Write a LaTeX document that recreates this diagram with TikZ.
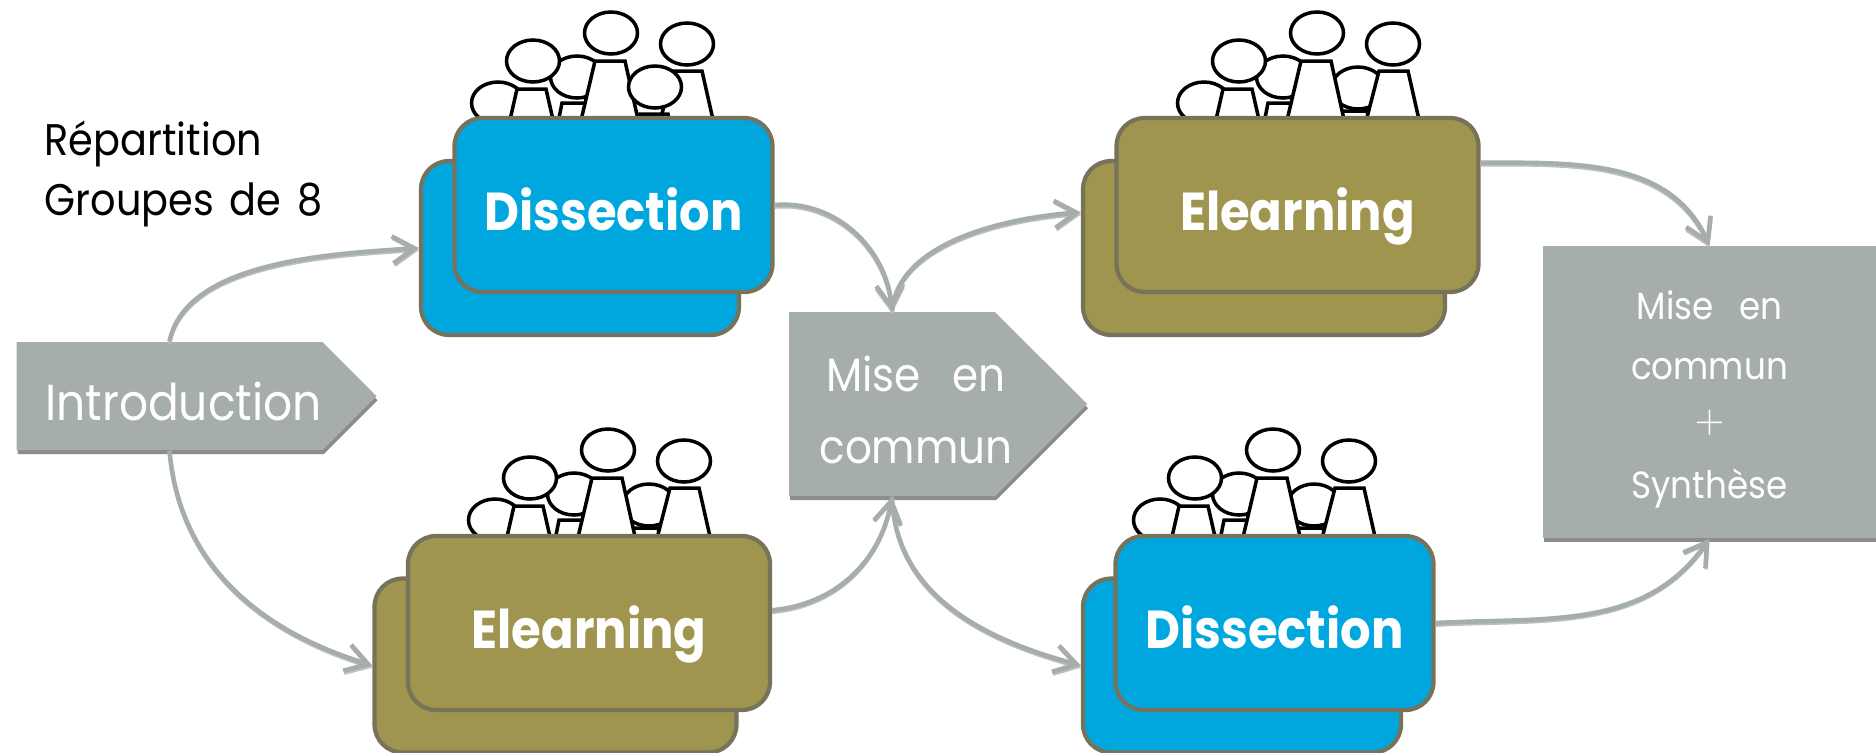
\documentclass[tikz,border=0pt]{standalone}
\usepackage{fontspec}
\setmainfont{Poppins}[FakeStretch=0.9, WordSpace=1.5]
\usetikzlibrary{arrows.meta,shapes.symbols,shadows}
\definecolor{bleu}{HTML}{00A7DF}
\definecolor{olive}{HTML}{9F954E}
\definecolor{gris}{HTML}{A5AEA8}
\definecolor{bord}{HTML}{77735A}
\newcommand{\decale}[1]{\makebox[0pt]{\hspace*{0.48cm}#1}}
\tikzset{
	corps/.style={draw=black, fill=white, line width=1pt},
	boite/.style={rectangle, rounded corners=0.28cm, draw=bord, line width=1.2pt, minimum height=1.74cm, text=white, text height=0.6cm, text depth=0.1cm, font=\fontsize{15.2}{17}\selectfont\bfseries},
	dissection/.style={boite, fill=bleu, minimum width=3.18cm},
	elearning/.style={boite, fill=olive, minimum width=3.62cm},
	ombre/.style={drop shadow={shadow xshift=0.3pt, shadow yshift=-1.2pt, opacity=0.45, fill=black}},
	etape/.style={signal, signal to=east, fill=gris, text=white, ombre, inner sep=0pt, align=center},
	fleche/.style={draw=gris, line width=1.3pt, -{Straight Barb[length=0.22cm, width=0.27cm]}, preaction={draw=black!25, line width=1pt, transform canvas={yshift=-0.6pt}, -{Straight Barb[length=0.22cm, width=0.27cm]}}},
	pics/fond/.style={code={
		\draw[corps] (-1.13, -0.70) ellipse (0.265 and 0.21);
		\draw[corps] (-0.34, -0.44) ellipse (0.265 and 0.21);
		\draw[corps] (-0.49, -0.70) -- (-0.25, -0.70) -- (-0.15, -1.0) -- (-0.55, -1.0) -- cycle;
		\draw[corps] (-0.94, -0.56) -- (-0.65, -0.56) -- (-0.55, -1.0) -- (-1.04, -1.0) -- cycle;
		\draw[corps] (-0.78, -0.28) ellipse (0.265 and 0.21);
	}},
	pics/milieu/.style={code={
		\draw[corps] (-0.16, -0.28) -- (0.14, -0.28) -- (0.30, -1.0) -- (-0.33, -1.0) -- cycle;
		\draw[corps] (0, 0) ellipse (0.265 and 0.21);
	}},
	pics/devant/.style={code={
		\draw[corps] (0.62, -0.38) -- (0.91, -0.38) -- (1.05, -1.0) -- (0.46, -1.0) -- cycle;
		\draw[corps] (0.76, -0.11) ellipse (0.265 and 0.21);
	}},
	pics/cinq-a/.style={code={
		\draw[corps] (0.29, -0.81) -- (0.57, -0.81) -- (0.60, -1.0) -- (0.26, -1.0) -- cycle;
		\draw[corps] (0.44, -0.54) ellipse (0.265 and 0.21);
	}},
	pics/cinq-b/.style={code={
		\draw[corps] (0.22, -0.78) -- (0.50, -0.78) -- (0.55, -1.0) -- (0.18, -1.0) -- cycle;
		\draw[corps] (0.41, -0.55) ellipse (0.265 and 0.21);
	}},
}
\begin{document}
\begin{tikzpicture}
	\useasboundingbox (0, 0) rectangle (18.76, 7.52);

	% groupes
	\pic at (6.11, 7.19) {fond};
	\pic at (6.11, 7.19) {devant};
	\pic at (6.11, 7.19) {milieu};
	\pic at (6.11, 7.19) {cinq-a};

	\pic at (13.17, 7.19) {fond};
	\pic at (13.17, 7.19) {cinq-b};
	\pic at (13.17, 7.19) {milieu};
	\pic at (13.17, 7.19) {devant};

	\pic at (6.08, 3.02) {fond};
	\pic at (6.08, 3.02) {cinq-b};
	\pic at (6.08, 3.02) {milieu};
	\pic at (6.08, 3.02) {devant};

	\pic at (12.73, 3.02) {fond};
	\pic at (12.73, 3.02) {cinq-b};
	\pic at (12.73, 3.02) {milieu};
	\pic at (12.73, 3.02) {devant};

	% paquets
	\node[dissection] (d-0-b) at (5.80, 5.04) {};
	\node[dissection] (d-0) at (6.135, 5.47) {Dissection};
	\node[elearning] (e-0-b) at (12.64, 5.04) {};
	\node[elearning] (e-0) at (12.975, 5.47) {Elearning};
	\node[elearning] (e-1-b) at (5.555, 0.865) {};
	\node[elearning] (e-1) at (5.89, 1.29) {Elearning};
	\node[dissection] (d-1-b) at (12.42, 0.865) {};
	\node[dissection] (d-1) at (12.745, 1.29) {Dissection};

	% etapes
	\node[etape, minimum width=3.6cm, minimum height=1.08cm, text height=0.58cm, text depth=0.1cm, font=\fontsize{14.4}{16}\selectfont] (intro) at (1.695, 3.56) {\hspace*{0.28cm}Introduction};
	\node[etape, minimum width=2.98cm, minimum height=1.84cm, font=\fontsize{13.3}{20.5}\selectfont] (mise-0) at (8.92, 3.48) {\rule{0pt}{0.47cm}\decale{Mise\hspace{0.15cm} en}\\\decale{commun}};
	\node[rectangle, fill=gris, text=white, ombre, minimum width=3.33cm, minimum height=2.92cm, align=center, font=\fontsize{10.8}{17}\selectfont] (mise-1) at (17.095, 3.60) {\rule{0pt}{0.44cm}Mise\hspace{0.12cm} en\\commun\\\raisebox{0.06cm}{$+$}\\Synthèse};

	\node[inner sep=0pt, align=left, anchor=north west, font=\fontsize{12.6}{17}\selectfont] (repart) at (0.44, 6.32) {Répartition\\Groupes de 8};

	% fleches
	\draw[fleche] (intro.north) to[out=78, in=184, looseness=0.8] (d-0-b.west);
	\draw[fleche] (intro.south) to[out=-85, in=163] (e-1-b.west);
	\draw[fleche] (d-0.east) to[out=5, in=95] (mise-0.north);
	\draw[fleche] (mise-0.north) to[out=85, in=184, looseness=0.85] (e-0-b.169);
	\draw[fleche] (e-1.4) to[out=5, in=-100] (mise-0.south);
	\draw[fleche] (mise-0.south) to[out=-88, in=165] (d-1-b.west);
	\draw[fleche] (e-0.13) to[out=0, in=115] (mise-1.north);
	\draw[fleche] (d-1.east) to[out=3, in=-125] (mise-1.south);
\end{tikzpicture}
\end{document}
